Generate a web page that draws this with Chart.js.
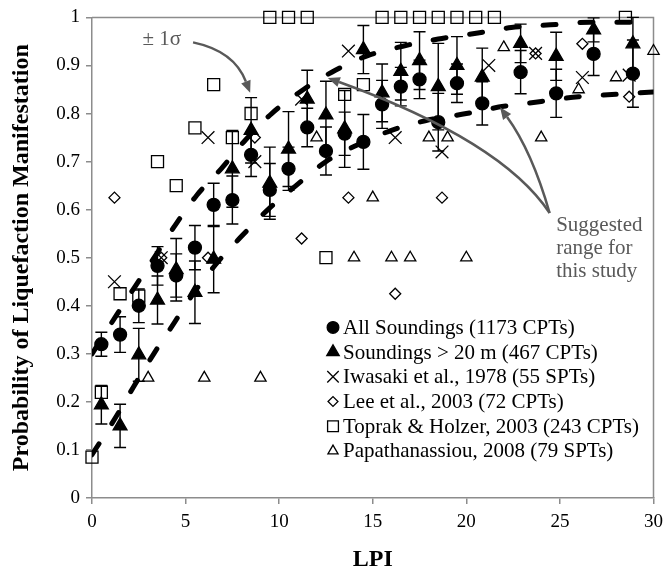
<!DOCTYPE html>
<html>
<head>
<meta charset="utf-8">
<script src="https://cdn.jsdelivr.net/npm/chart.js@4.4.1/dist/chart.umd.min.js"></script>
<style>
	html, body { margin: 0; padding: 0; background: #fff; }
	#wrap { width: 670px; height: 576px; }
</style>
</head>
<body>
<div id="wrap"><canvas id="lpiChart"></canvas></div>
<script>
// LPI bins and probability of manifestation (mean, +/- 1 sigma)
const binLpi = [0.5, 1.5, 2.5, 3.5, 4.5, 5.5, 6.5, 7.5, 8.5, 9.5, 10.5, 11.5, 12.5, 13.5, 14.5, 15.5, 16.5, 17.5, 18.5, 19.5, 20.85, 22.9, 24.8, 26.8, 28.9];
const allProb = [0.32, 0.34, 0.40, 0.483, 0.463, 0.521, 0.61, 0.62, 0.714, 0.641, 0.685, 0.771, 0.722, 0.758, 0.741, 0.819, 0.856, 0.871, 0.782, 0.863, 0.821, 0.886, 0.842, 0.924, 0.883];
const allSd = [0.025, 0.037, 0.035, 0.04, 0.045, 0.046, 0.045, 0.05, 0.045, 0.055, 0.045, 0.04, 0.05, 0.045, 0.057, 0.05, 0.04, 0.04, 0.06, 0.04, 0.045, 0.045, 0.05, 0.045, 0.07];
const deepProb = [0.194, 0.15, 0.298, 0.412, 0.475, 0.428, 0.497, 0.685, 0.765, 0.655, 0.726, 0.83, 0.797, 0.768, 0.933, 0.843, 0.888, 0.91, 0.856, 0.90, 0.876, 0.946, 0.919, 0.974, 0.945];
const deepSd = [0.04, 0.045, 0.055, 0.05, 0.065, 0.065, 0.07, 0.08, 0.068, 0.075, 0.078, 0.06, 0.07, 0.08, 0.05, 0.06, 0.06, 0.06, 0.09, 0.06, 0.06, 0.04, 0.05, 0.025, 0.055];

// other studies
const iwasakiLpi = [1.2, 3.7, 6.2, 8.7, 11.2, 13.7, 16.2, 18.7, 21.2, 23.7, 26.2, 28.7];
const iwasakiProb = [0.45, 0.50, 0.75, 0.70, 0.83, 0.93, 0.75, 0.72, 0.90, 0.925, 0.875, 0.88];
const leeLpi = [1.2, 3.7, 6.2, 8.7, 11.2, 13.7, 16.2, 18.7, 23.7, 26.2, 28.7];
const leeProb = [0.625, 0.50, 0.50, 0.75, 0.54, 0.625, 0.425, 0.625, 0.925, 0.945, 0.835];
const toprakLpi = [0, 0.5, 1.5, 2.5, 3.5, 4.5, 5.5, 6.5, 7.5, 8.5, 9.5, 10.5, 11.5, 12.5, 13.5, 14.5, 15.5, 16.5, 17.5, 18.5, 19.5, 20.5, 21.5, 28.5];
const toprakProb = [0.085, 0.22, 0.425, 0.42, 0.70, 0.65, 0.77, 0.86, 0.75, 0.80, 1, 1, 1, 0.5, 0.84, 0.86, 1, 1, 1, 1, 1, 1, 1, 1];
const papaLpi = [3, 6, 9, 12, 14, 15, 16, 17, 18, 19, 20, 22, 24, 26, 28, 30];
const papaProb = [0.25, 0.25, 0.25, 0.75, 0.5, 0.625, 0.5, 0.5, 0.75, 0.75, 0.5, 0.9375, 0.75, 0.85, 0.875, 0.93];

// suggested range curves
const upperLpi = [0, 1.3, 2.3, 3.4, 4.4, 5.6, 6.9, 8.2, 9.6, 11.3, 13, 14.7, 16.6, 18.5, 20.7, 22.4, 24.8, 26.6, 28.7, 30];
const upperProb = [0.30, 0.38, 0.44, 0.505, 0.565, 0.63, 0.685, 0.745, 0.80, 0.85, 0.89, 0.92, 0.94, 0.955, 0.968, 0.979, 0.985, 0.99, 0.99, 0.99];
const lowerLpi = [0, 1.3, 2.2, 3.3, 4.4, 5.5, 6.7, 8, 9.4, 10.9, 12.5, 14.2, 16, 17.8, 20, 22, 24, 26, 28, 30];
const lowerProb = [0.09, 0.17, 0.23, 0.30, 0.365, 0.43, 0.49, 0.545, 0.60, 0.65, 0.70, 0.735, 0.765, 0.785, 0.80, 0.815, 0.825, 0.835, 0.84, 0.845];

const xTicks = [0, 5, 10, 15, 20, 25, 30];

const FONT = "'Liberation Serif', 'Times New Roman', serif";
const AXIS_GREY = "#8c8c8c";
const NOTE_GREY = "#595959";

function toPoints(xs, ys) {
	return xs.map((x, i) => ({ x: x, y: ys[i] }));
}

/*######################################*
||             Error bars              ||
*######################################*/

const errorBars = {
	id: "errorBars",
	beforeDatasetsDraw(chart) {
		const ctx = chart.ctx;
		const xs = chart.scales.x;
		const ys = chart.scales.y;
		ctx.save();
		ctx.strokeStyle = "#000";
		ctx.lineWidth = 1.4;
		chart.data.datasets.forEach((ds) => {
			if (!ds.errors) return;
			ds.data.forEach((pt, i) => {
				const px = xs.getPixelForValue(pt.x);
				const top = ys.getPixelForValue(pt.y + ds.errors[i]);
				const bot = ys.getPixelForValue(pt.y - ds.errors[i]);
				ctx.beginPath();
				ctx.moveTo(px, top);
				ctx.lineTo(px, bot);
				ctx.moveTo(px - 6, top);
				ctx.lineTo(px + 6, top);
				ctx.moveTo(px - 6, bot);
				ctx.lineTo(px + 6, bot);
				ctx.stroke();
			});
		});
		ctx.restore();
	},
};

// grey box round the plot
const plotFrame = {
	id: "plotFrame",
	beforeDatasetsDraw(chart) {
		const { left, top, right, bottom } = chart.chartArea;
		const ctx = chart.ctx;
		ctx.save();
		ctx.strokeStyle = AXIS_GREY;
		ctx.lineWidth = 1.5;
		ctx.beginPath();
		ctx.moveTo(left, top);
		ctx.lineTo(right, top);
		ctx.lineTo(right, bottom);
		ctx.stroke();
		ctx.restore();
	},
};

/*######################################*
||        Notes, arrows, legend        ||
*######################################*/

function curvedArrow(chart, from, via, to) {
	const ctx = chart.ctx;
	const xs = chart.scales.x;
	const ys = chart.scales.y;
	const p0 = [xs.getPixelForValue(from[0]), ys.getPixelForValue(from[1])];
	const c = [xs.getPixelForValue(via[0]), ys.getPixelForValue(via[1])];
	const p1 = [xs.getPixelForValue(to[0]), ys.getPixelForValue(to[1])];
	const ang = Math.atan2(p1[1] - c[1], p1[0] - c[0]);
	const head = 12;
	const base = [p1[0] - Math.cos(ang) * head, p1[1] - Math.sin(ang) * head];
	ctx.save();
	ctx.strokeStyle = NOTE_GREY;
	ctx.fillStyle = NOTE_GREY;
	ctx.lineWidth = 2.5;
	ctx.beginPath();
	ctx.moveTo(p0[0], p0[1]);
	ctx.quadraticCurveTo(c[0], c[1], base[0], base[1]);
	ctx.stroke();
	ctx.beginPath();
	ctx.moveTo(p1[0], p1[1]);
	ctx.lineTo(base[0] + Math.sin(ang) * 5, base[1] - Math.cos(ang) * 5);
	ctx.lineTo(base[0] - Math.sin(ang) * 5, base[1] + Math.cos(ang) * 5);
	ctx.closePath();
	ctx.fill();
	ctx.restore();
}

const notes = {
	id: "notes",
	afterDraw(chart) {
		const ctx = chart.ctx;
		const xs = chart.scales.x;
		const ys = chart.scales.y;
		ctx.save();
		ctx.fillStyle = NOTE_GREY;
		ctx.font = "21px " + FONT;
		ctx.textBaseline = "middle";
		ctx.textAlign = "left";
		ctx.fillText("\u00b1 1\u03c3", xs.getPixelForValue(2.7), ys.getPixelForValue(0.955));
		const lines = ["Suggested", "range for", "this study"];
		lines.forEach((t, i) => {
			ctx.fillText(t, xs.getPixelForValue(24.8), ys.getPixelForValue(0.567 - i * 0.048));
		});
		ctx.restore();

		curvedArrow(chart, [5.4, 0.948], [7.6, 0.93], [8.45, 0.843]);
		curvedArrow(chart, [24.45, 0.593], [21.9, 0.743], [12.6, 0.874]);
		curvedArrow(chart, [24.45, 0.593], [23.5, 0.722], [21.8, 0.813]);
	},
};

const boxLegend = {
	id: "boxLegend",
	afterDraw(chart) {
		const ctx = chart.ctx;
		const area = chart.chartArea;
		const x0 = area.left + 241;
		let y = area.top + 310;
		ctx.save();
		ctx.font = "21px " + FONT;
		ctx.textBaseline = "middle";
		ctx.textAlign = "left";
		chart.data.datasets.forEach((ds) => {
			if (!ds.inLegend) return;
			ctx.fillStyle = ds.pointBackgroundColor || "#000";
			ctx.strokeStyle = "#000";
			ctx.lineWidth = ds.pointBorderWidth;
			Chart.helpers.drawPoint(ctx, {
				pointStyle: ds.pointStyle,
				radius: ds.legendRadius,
				borderWidth: ds.pointBorderWidth,
				rotation: 0,
			}, x0, y);
			ctx.fillStyle = "#000";
			ctx.fillText(ds.label, x0 + 10, y + 1);
			y += 24.7;
		});
		ctx.restore();
	},
};

/*######################################*
||             The chart               ||
*######################################*/

function markerSet(label, xs, ys, style, radius, filled, order) {
	return {
		type: "scatter",
		label: label,
		data: toPoints(xs, ys),
		pointStyle: style,
		pointRadius: radius,
		pointHoverRadius: radius,
		pointBorderWidth: 1.3,
		pointBorderColor: "#000",
		pointBackgroundColor: filled ? "#000" : "rgba(0,0,0,0)",
		legendRadius: radius * 0.9,
		inLegend: true,
		clip: false,
		order: order,
	};
}

function dashedCurve(label, xs, ys) {
	return {
		type: "line",
		label: label,
		data: toPoints(xs, ys),
		borderColor: "#000",
		borderWidth: 5,
		borderDash: [13, 24],
		borderCapStyle: "round",
		cubicInterpolationMode: "monotone",
		pointRadius: 0,
		fill: false,
		inLegend: false,
		order: 0,
	};
}

const allSet = markerSet("All Soundings (1173 CPTs)", binLpi, allProb, "circle", 6.5, true, 1);
allSet.errors = allSd;
const deepSet = markerSet("Soundings > 20 m (467 CPTs)", binLpi, deepProb, "triangle", 8, true, 2);
deepSet.errors = deepSd;

new Chart("lpiChart", {
	type: "scatter",
	data: {
		datasets: [
			allSet,
			deepSet,
			markerSet("Iwasaki et al., 1978 (55 SPTs)", iwasakiLpi, iwasakiProb, "crossRot", 9, false, 3),
			markerSet("Lee et al., 2003 (72 CPTs)", leeLpi, leeProb, "rectRot", 5.5, false, 4),
			markerSet("Toprak & Holzer, 2003 (243 CPTs)", toprakLpi, toprakProb, "rect", 8.5, false, 5),
			markerSet("Papathanassiou, 2008 (79 SPTs)", papaLpi, papaProb, "triangle", 6.5, false, 6),
			dashedCurve("upper", upperLpi, upperProb),
			dashedCurve("lower", lowerLpi, lowerProb),
		],
	},
	options: {
		responsive: true,
		maintainAspectRatio: false,
		animation: false,
		layout: {
			padding: { top: 17, right: 13, left: 0, bottom: 0 },
		},
		plugins: {
			legend: { display: false },
			tooltip: { enabled: false },
		},
		scales: {
			x: {
				type: "linear",
				min: 0,
				max: 30,
				afterFit: (scale) => {
					scale.height = 78;
				},
				afterBuildTicks: (scale) => {
					scale.ticks = xTicks.map((v) => ({ value: v }));
				},
				grid: { display: true, drawOnChartArea: false, tickLength: 6, color: AXIS_GREY, lineWidth: 1.5 },
				border: { display: true, color: AXIS_GREY, width: 1.5 },
				ticks: {
					color: "#000",
					padding: 7,
					font: { family: FONT, size: 19 },
				},
				title: {
					display: true,
					text: "LPI",
					color: "#000",
					padding: { top: 0, bottom: 2 },
					font: { family: FONT, size: 24, weight: "bold" },
				},
			},
			y: {
				min: 0,
				max: 1,
				afterFit: (scale) => {
					scale.width = 92;
				},
				grid: { display: true, drawOnChartArea: false, tickLength: 6, color: AXIS_GREY, lineWidth: 1.5 },
				border: { display: true, color: AXIS_GREY, width: 1.5 },
				ticks: {
					stepSize: 0.1,
					color: "#000",
					padding: 6,
					font: { family: FONT, size: 19 },
					callback: (v) => String(Number(v.toFixed(1))),
				},
				title: {
					display: true,
					text: "Probability of Liquefaction Manifestation",
					color: "#000",
					padding: { top: 7, bottom: 0 },
					font: { family: FONT, size: 24, weight: "bold" },
				},
			},
		},
	},
	plugins: [plotFrame, errorBars, notes, boxLegend],
});
</script>
</body>
</html>
